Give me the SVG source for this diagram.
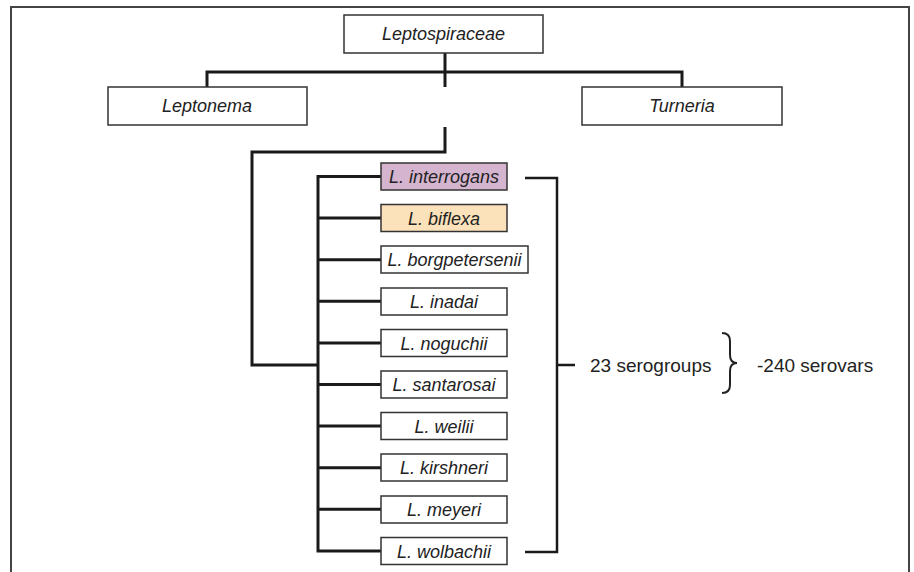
<svg xmlns="http://www.w3.org/2000/svg" width="914" height="572" viewBox="0 0 914 572">
<style>
.box{fill:#fff;stroke:#333;stroke-width:1.5}
.t{font-family:"Liberation Sans",Arial,sans-serif;font-size:18px;font-style:italic;fill:#222;text-anchor:middle}
.u{font-family:"Liberation Sans",Arial,sans-serif;font-size:19px;fill:#222}
.c{fill:none;stroke:#1a1a1a;stroke-width:3}
</style>
<rect x="0" y="0" width="914" height="572" fill="#fff"/>
<path d="M11,580 V7 H909 V580" fill="none" stroke="#444" stroke-width="2"/>
<g id="connectors">
<path class="c" d="M445,53 V87 M207,87 V72 H682 V87"/>
<path class="c" d="M445,127 V152 H252 V365 H318"/>
<path class="c" d="M381,176.5 H318 V551 H381 M318,218 H381 M318,259.7 H381 M318,301.3 H381 M318,343 H381 M318,384.5 H381 M318,426 H381 M318,467.7 H381 M318,509.3 H381"/>
<path class="c" style="stroke-width:2.5" d="M525,178 H557 V552 H525 M557,365 H575"/>
<path d="M722,333 q8,0 8,8 v14 q0,8 7,8 q-7,0 -7,8 v14 q0,8 -8,8" fill="none" stroke="#222" stroke-width="2"/>
</g>
<g id="leptospiraceae"><rect class="box" x="344" y="15" width="199" height="38"/><text class="t" x="443.5" y="40">Leptospiraceae</text></g>
<g id="leptonema"><rect class="box" x="108" y="87" width="199" height="38"/><text class="t" x="207" y="112">Leptonema</text></g>
<g id="turneria"><rect class="box" x="582" y="87" width="200" height="38"/><text class="t" x="682" y="112">Turneria</text></g>
<g id="interrogans"><rect class="box" x="381" y="163" width="126" height="27" style="fill:#d5b4cf"/><text class="t" x="444" y="183">L. interrogans</text></g>
<g id="biflexa"><rect class="box" x="381" y="204.5" width="126" height="27" style="fill:#fbe2bb"/><text class="t" x="444" y="224.5">L. biflexa</text></g>
<g id="borgpetersenii"><rect class="box" x="381" y="246" width="147" height="27"/><text class="t" x="454.5" y="266">L. borgpetersenii</text></g>
<g id="inadai"><rect class="box" x="381" y="288" width="126" height="27"/><text class="t" x="444" y="308">L. inadai</text></g>
<g id="noguchii"><rect class="box" x="381" y="329.5" width="126" height="27"/><text class="t" x="444" y="349.5">L. noguchii</text></g>
<g id="santarosai"><rect class="box" x="381" y="371" width="126" height="27"/><text class="t" x="444" y="391">L. santarosai</text></g>
<g id="weilii"><rect class="box" x="381" y="412.5" width="126" height="27"/><text class="t" x="444" y="432.5">L. weilii</text></g>
<g id="kirshneri"><rect class="box" x="381" y="454" width="126" height="27"/><text class="t" x="444" y="474">L. kirshneri</text></g>
<g id="meyeri"><rect class="box" x="381" y="496" width="126" height="27"/><text class="t" x="444" y="516">L. meyeri</text></g>
<g id="wolbachii"><rect class="box" x="381" y="537.5" width="126" height="27"/><text class="t" x="444" y="557.5">L. wolbachii</text></g>
<g id="labels">
<text class="u" x="590" y="372">23 serogroups</text>
<text class="u" x="757" y="372">-240 serovars</text>
</g>
</svg>
